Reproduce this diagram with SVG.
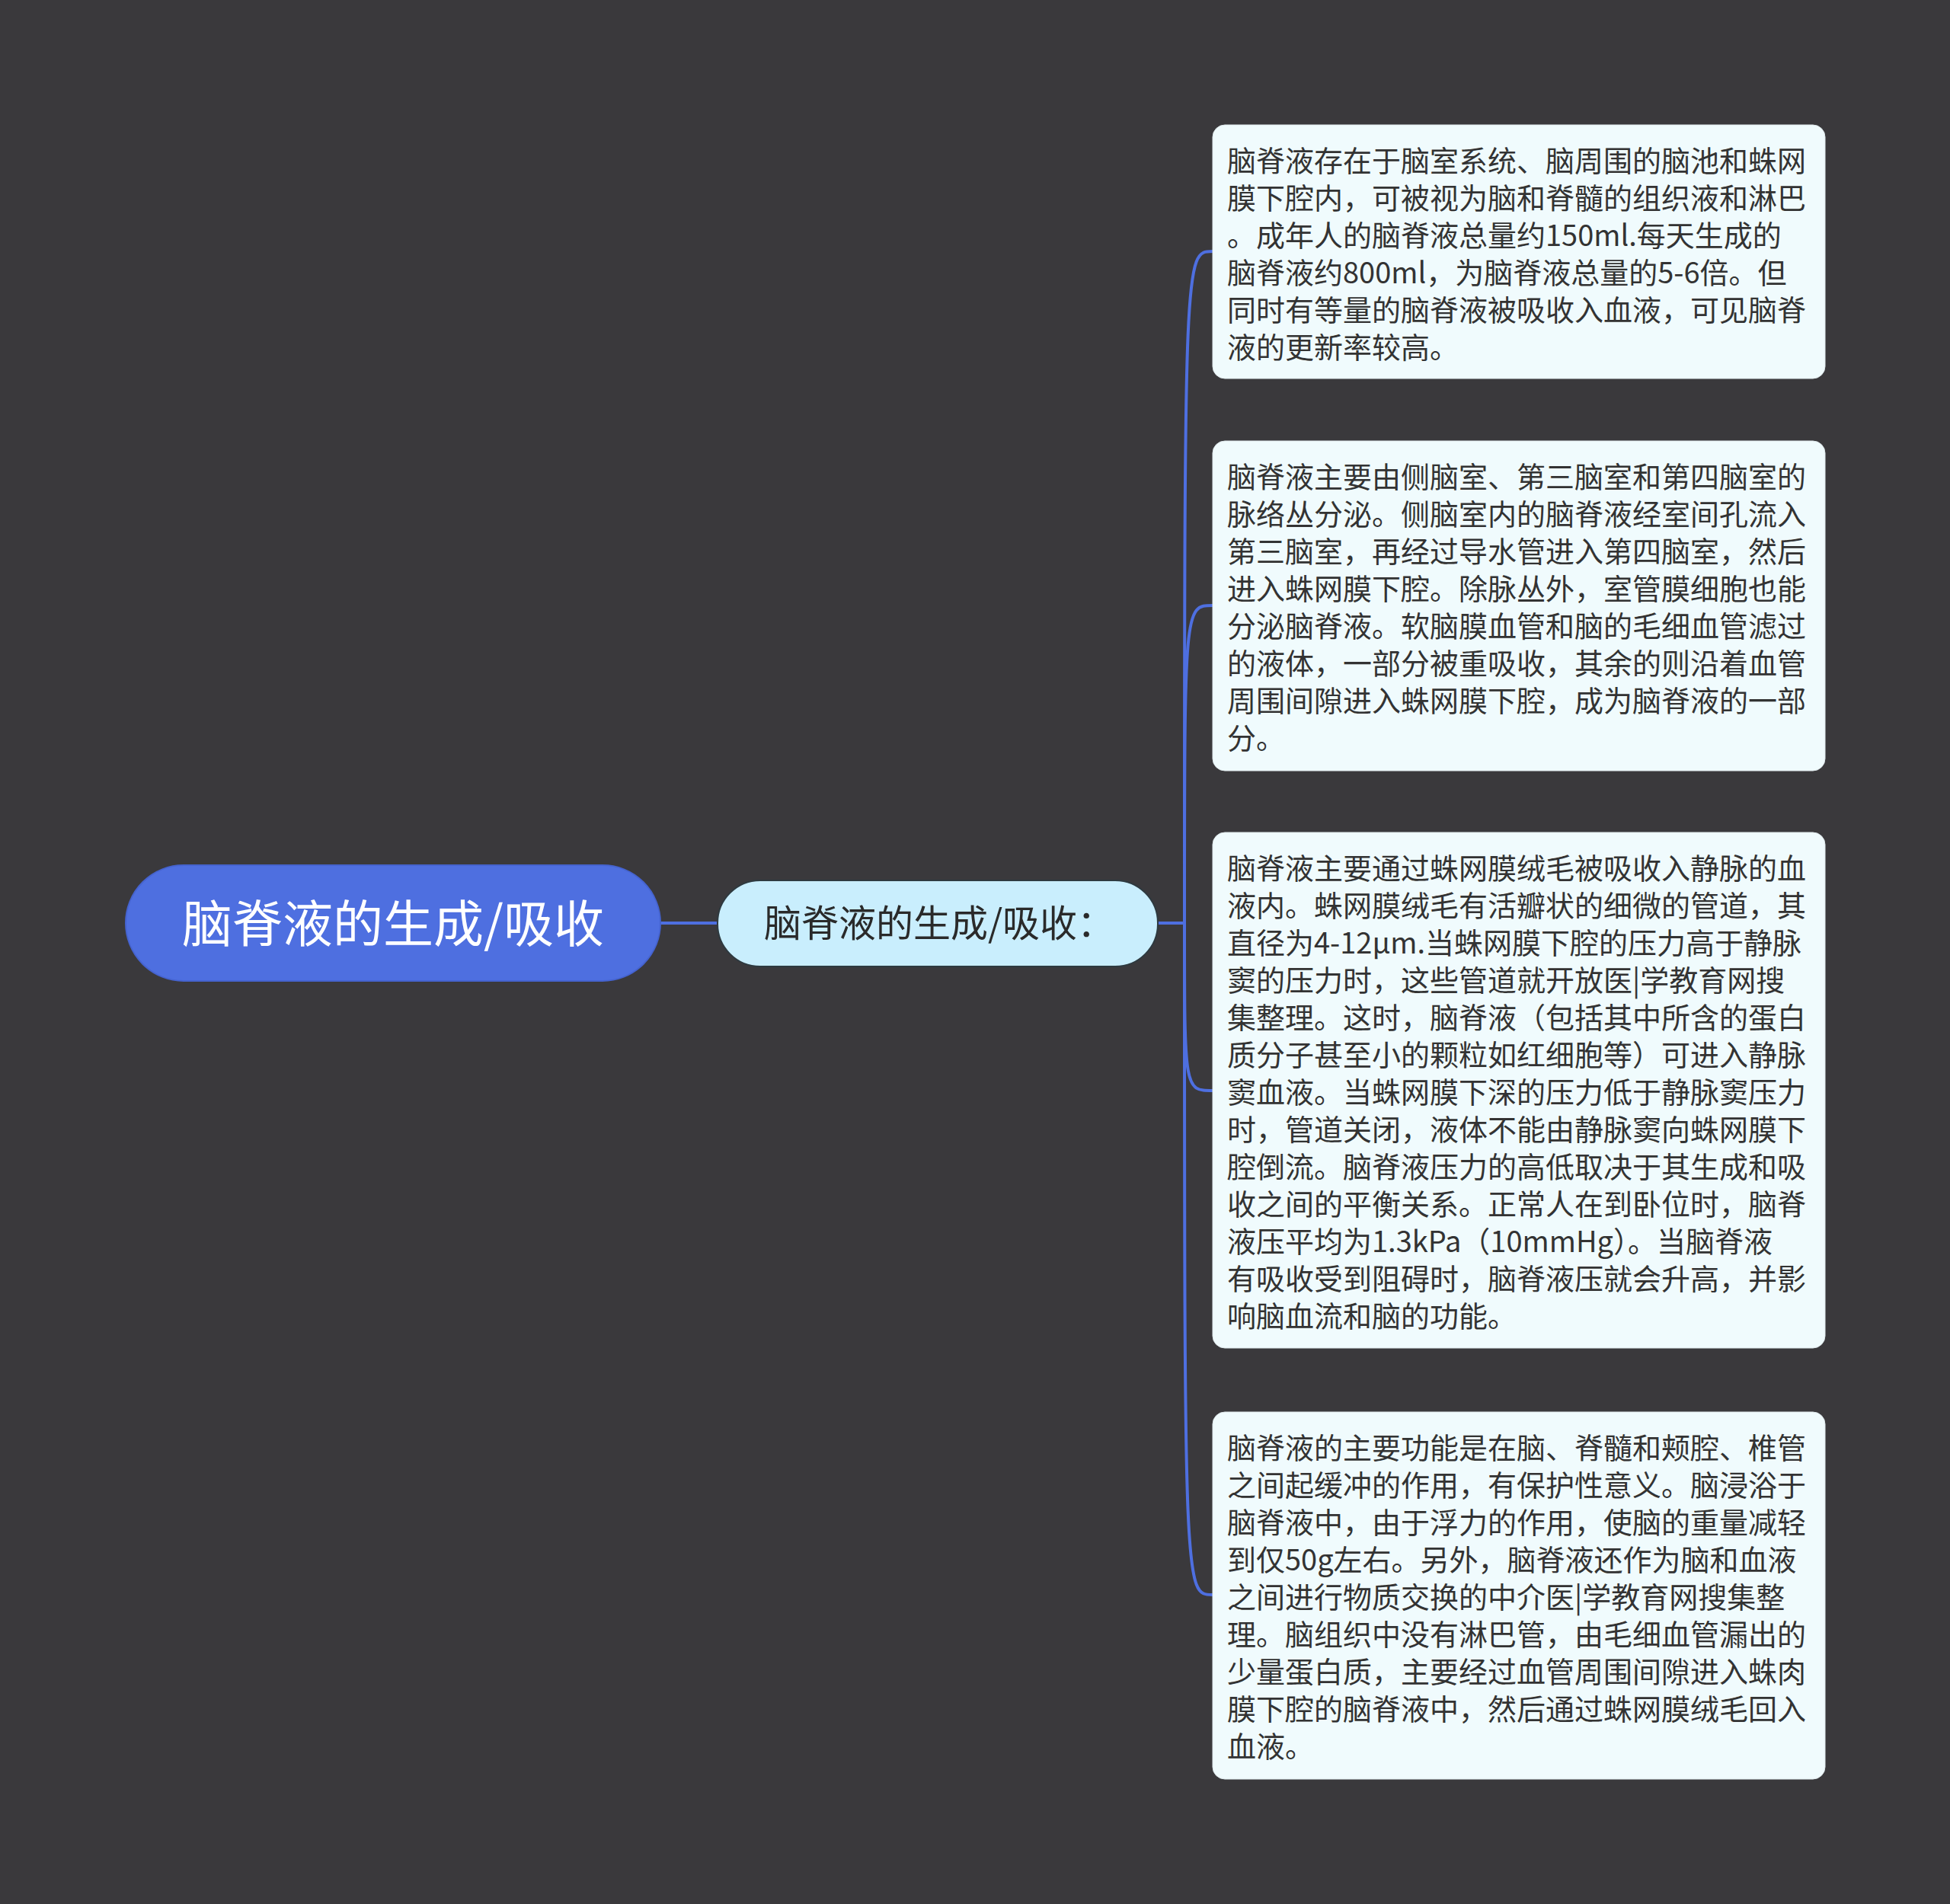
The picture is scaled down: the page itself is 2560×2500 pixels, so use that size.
<svg xmlns="http://www.w3.org/2000/svg" width="2560" height="2500" viewBox="0 0 2560 2500">
<style>
.bg{fill:#3a393c}
.conn{fill:none;stroke:#4e6fe0;stroke-width:4;stroke-linecap:round}
.box{fill:#f0fbfd;stroke:#dfe9ec;stroke-width:1}
.bt{font-family:"Noto Sans CJK SC","Noto Sans",sans-serif;font-size:38px;fill:#333333}
.root{fill:#4e6fe0;stroke:#4563cf;stroke-width:2}
.rt{font-family:"Noto Sans CJK SC","Noto Sans",sans-serif;font-size:66px;fill:#ffffff;text-anchor:middle}
.mid{fill:#c9eefd;stroke:#2e3a40;stroke-width:2}
.mt{font-family:"Noto Sans CJK SC","Noto Sans",sans-serif;font-size:49px;fill:#2a2a2a;text-anchor:middle}
</style>
<rect class="bg" x="0" y="0" width="2560" height="2500"/>
<g id="connectors">
<path class="conn" d="M867 1212 L942 1212"/>
<path class="conn" d="M1520 1212 L1555 1212"/>
<path class="conn" d="M1555 1212 C1555 330,1555 330,1592 330"/>
<path class="conn" d="M1555 1212 C1555 795,1555 795,1592 795"/>
<path class="conn" d="M1555 1212 C1555 1432,1555 1432,1592 1432"/>
<path class="conn" d="M1555 1212 C1555 2094,1555 2094,1592 2094"/>
</g>
<g id="root">
<rect class="root" x="165" y="1136" width="702" height="152" rx="76" ry="76"/>
<text class="rt" x="516" y="1237">脑脊液的生成/吸收</text>
</g>
<g id="middle">
<rect class="mid" x="942" y="1156" width="578" height="113" rx="56" ry="56"/>
<text class="mt" x="1233" y="1230">脑脊液的生成/吸收：</text>
</g>
<g id="box1">
<rect class="box" x="1592" y="164" width="804" height="333" rx="16" ry="16"/>
<text class="bt" x="1611" y="225">
<tspan x="1611" dy="0">脑脊液存在于脑室系统、脑周围的脑池和蛛网</tspan>
<tspan x="1611" dy="49">膜下腔内，可被视为脑和脊髓的组织液和淋巴</tspan>
<tspan x="1611" dy="49">。成年人的脑脊液总量约150ml.每天生成的</tspan>
<tspan x="1611" dy="49">脑脊液约800ml，为脑脊液总量的5-6倍。但</tspan>
<tspan x="1611" dy="49">同时有等量的脑脊液被吸收入血液，可见脑脊</tspan>
<tspan x="1611" dy="49">液的更新率较高。</tspan>
</text>
</g>
<g id="box2">
<rect class="box" x="1592" y="579" width="804" height="433" rx="16" ry="16"/>
<text class="bt" x="1611" y="640">
<tspan x="1611" dy="0">脑脊液主要由侧脑室、第三脑室和第四脑室的</tspan>
<tspan x="1611" dy="49">脉络丛分泌。侧脑室内的脑脊液经室间孔流入</tspan>
<tspan x="1611" dy="49">第三脑室，再经过导水管进入第四脑室，然后</tspan>
<tspan x="1611" dy="49">进入蛛网膜下腔。除脉丛外，室管膜细胞也能</tspan>
<tspan x="1611" dy="49">分泌脑脊液。软脑膜血管和脑的毛细血管滤过</tspan>
<tspan x="1611" dy="49">的液体，一部分被重吸收，其余的则沿着血管</tspan>
<tspan x="1611" dy="49">周围间隙进入蛛网膜下腔，成为脑脊液的一部</tspan>
<tspan x="1611" dy="49">分。</tspan>
</text>
</g>
<g id="box3">
<rect class="box" x="1592" y="1093" width="804" height="677" rx="16" ry="16"/>
<text class="bt" x="1611" y="1154">
<tspan x="1611" dy="0">脑脊液主要通过蛛网膜绒毛被吸收入静脉的血</tspan>
<tspan x="1611" dy="49">液内。蛛网膜绒毛有活瓣状的细微的管道，其</tspan>
<tspan x="1611" dy="49">直径为4-12μm.当蛛网膜下腔的压力高于静脉</tspan>
<tspan x="1611" dy="49">窦的压力时，这些管道就开放医|学教育网搜</tspan>
<tspan x="1611" dy="49">集整理。这时，脑脊液（包括其中所含的蛋白</tspan>
<tspan x="1611" dy="49">质分子甚至小的颗粒如红细胞等）可进入静脉</tspan>
<tspan x="1611" dy="49">窦血液。当蛛网膜下深的压力低于静脉窦压力</tspan>
<tspan x="1611" dy="49">时，管道关闭，液体不能由静脉窦向蛛网膜下</tspan>
<tspan x="1611" dy="49">腔倒流。脑脊液压力的高低取决于其生成和吸</tspan>
<tspan x="1611" dy="49">收之间的平衡关系。正常人在到卧位时，脑脊</tspan>
<tspan x="1611" dy="49">液压平均为1.3kPa（10mmHg）。当脑脊液</tspan>
<tspan x="1611" dy="49">有吸收受到阻碍时，脑脊液压就会升高，并影</tspan>
<tspan x="1611" dy="49">响脑血流和脑的功能。</tspan>
</text>
</g>
<g id="box4">
<rect class="box" x="1592" y="1854" width="804" height="482" rx="16" ry="16"/>
<text class="bt" x="1611" y="1915">
<tspan x="1611" dy="0">脑脊液的主要功能是在脑、脊髓和颊腔、椎管</tspan>
<tspan x="1611" dy="49">之间起缓冲的作用，有保护性意义。脑浸浴于</tspan>
<tspan x="1611" dy="49">脑脊液中，由于浮力的作用，使脑的重量减轻</tspan>
<tspan x="1611" dy="49">到仅50g左右。另外，脑脊液还作为脑和血液</tspan>
<tspan x="1611" dy="49">之间进行物质交换的中介医|学教育网搜集整</tspan>
<tspan x="1611" dy="49">理。脑组织中没有淋巴管，由毛细血管漏出的</tspan>
<tspan x="1611" dy="49">少量蛋白质，主要经过血管周围间隙进入蛛肉</tspan>
<tspan x="1611" dy="49">膜下腔的脑脊液中，然后通过蛛网膜绒毛回入</tspan>
<tspan x="1611" dy="49">血液。</tspan>
</text>
</g>
</svg>
